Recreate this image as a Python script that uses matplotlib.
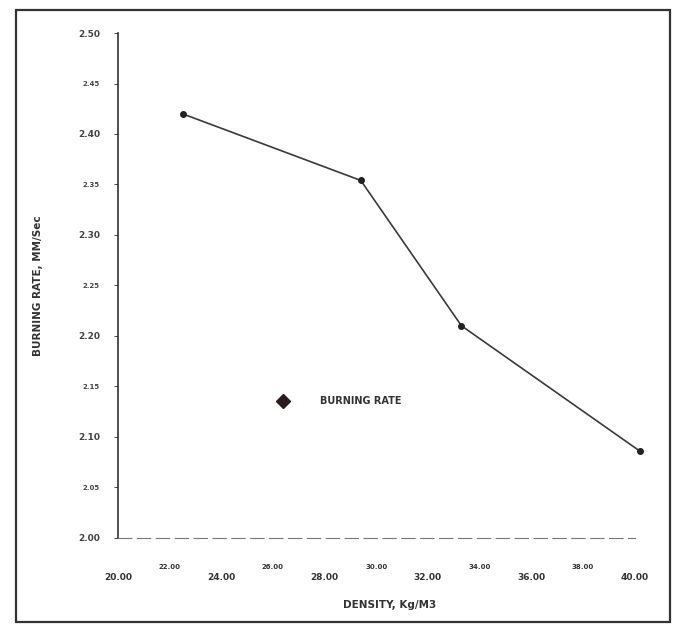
import matplotlib
matplotlib.use("Agg")
import matplotlib.pyplot as plt
from matplotlib.lines import Line2D
from matplotlib.patches import Rectangle

# values
density = [22.5, 29.4, 33.3, 40.2]
burning_rate = [2.42, 2.354, 2.21, 2.086]

x_ticks = [20, 22, 24, 26, 28, 30, 32, 34, 36, 38, 40]
y_ticks = [2.00, 2.05, 2.10, 2.15, 2.20, 2.25, 2.30, 2.35, 2.40, 2.45, 2.50]


def plot_burning_rate():
	fig = plt.figure(figsize=(6.78, 6.35), dpi=100)
	ax = fig.add_axes([0.174, 0.153, 0.80, 0.795])

	ax.plot(density, burning_rate, color='#3a3a3a', linewidth=1.2,
		marker='o', markersize=4, markerfacecolor='#222222', markeredgecolor='#222222')

	ax.set_xlim(20, 41)
	ax.set_ylim(2.0, 2.5)

	ax.spines['top'].set_visible(False)
	ax.spines['right'].set_visible(False)
	ax.spines['left'].set_color('#333333')
	ax.spines['left'].set_linewidth(1.2)
	ax.spines['bottom'].set_color('#777777')
	ax.spines['bottom'].set_linewidth(0.8)
	ax.spines['bottom'].set_linestyle((0, (12, 5)))
	ax.spines['bottom'].set_bounds(20, 40)

	ax.set_xticks(x_ticks)
	ax.set_xticklabels(["%.2f" % v for v in x_ticks])
	ax.set_yticks(y_ticks)
	ax.set_yticklabels(["%.2f" % v for v in y_ticks])
	ax.tick_params(axis='x', length=0, colors='#333333')
	ax.tick_params(axis='y', length=3, width=0.7, colors='#444444', pad=10)

	# staggered labels like the original print
	for i, tick in enumerate(ax.xaxis.get_major_ticks()):
		tick.label1.set_fontweight('semibold')
		if i % 2 == 0:
			tick.set_pad(25)
			tick.label1.set_fontsize(6.5)
		else:
			tick.set_pad(19)
			tick.label1.set_fontsize(5)
	for i, tick in enumerate(ax.yaxis.get_major_ticks()):
		tick.label1.set_fontweight('semibold')
		if i % 2 == 0:
			tick.label1.set_fontsize(6.5)
		else:
			tick.label1.set_fontsize(5)

	ax.set_xlabel("DENSITY, Kg/M3", fontsize=7.5, fontweight='bold', color='#333333', labelpad=13)
	ax.set_ylabel("BURNING RATE, MM/Sec", fontsize=7.5, fontweight='bold', color='#333333', labelpad=25)

	handle = Line2D([], [], marker='D', linestyle='none', markersize=7,
		color='#2a1c1c', label='BURNING RATE')
	ax.legend(handles=[handle], loc='center left', bbox_to_anchor=(0.27, 0.271),
		frameon=False, prop={'size': 7, 'weight': 'bold'}, handletextpad=2.8,
		labelcolor='#333333')

	# scanned page border
	fig.patches.append(Rectangle((0.024, 0.020), 0.964, 0.964, transform=fig.transFigure,
		fill=False, edgecolor='#333333', linewidth=1.6))

	plt.savefig('out.png', dpi=100)


def main():
	plot_burning_rate()

if __name__ == "__main__":
	main()
